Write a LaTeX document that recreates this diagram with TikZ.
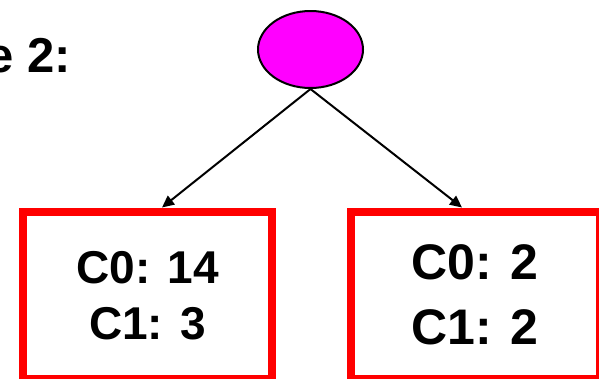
\documentclass[tikz,border=0pt]{standalone}
\usepackage{fontspec}
\setmainfont{Liberation Sans}
\usetikzlibrary{arrows.meta,positioning,shapes.geometric}
\definecolor{splitred}{HTML}{FF0000}
\definecolor{splitmagenta}{HTML}{FF00FF}
\tikzset{
  splitroot/.style={
    ellipse,
    draw=black,
    line width=2pt,
    fill=splitmagenta,
    minimum width=105pt,
    minimum height=77pt,
    inner sep=0pt
  },
  splitleaf/.style={
    rectangle,
    draw=splitred,
    line width=8pt,
    fill=white,
    align=center,
    minimum width=249pt,
    minimum height=167.5pt
  },
  splitarrow/.style={-{Triangle[length=12pt,width=11pt]}, line width=2pt, draw=black}
}

\begin{document}
\begin{tikzpicture}[x=1pt,y=1pt]
\useasboundingbox (0,0) rectangle (599,-378);
\clip (0,0) rectangle (599,-378);
\node[anchor=base west, inner sep=0pt, font=\fontsize{49}{49}\selectfont\bfseries] (title) at (-14,-72) {e 2:};
\node[splitroot] (root) at (310.5,-49.5) {};
\node[splitleaf, font=\fontsize{46}{56}\selectfont\bfseries] (leftleaf) at (147.5,-295.25) {C0: 14\\C1: 3};
\node[splitleaf, font=\fontsize{50}{65}\selectfont\bfseries] (rightleaf) at (475,-295.25) {C0: 2\\C1: 2};
\draw[splitarrow] (root.south) -- ([xshift=14.5pt]leftleaf.north);
\draw[splitarrow] (root.south) -- ([xshift=-13pt]rightleaf.north);
\end{tikzpicture}
\end{document}
